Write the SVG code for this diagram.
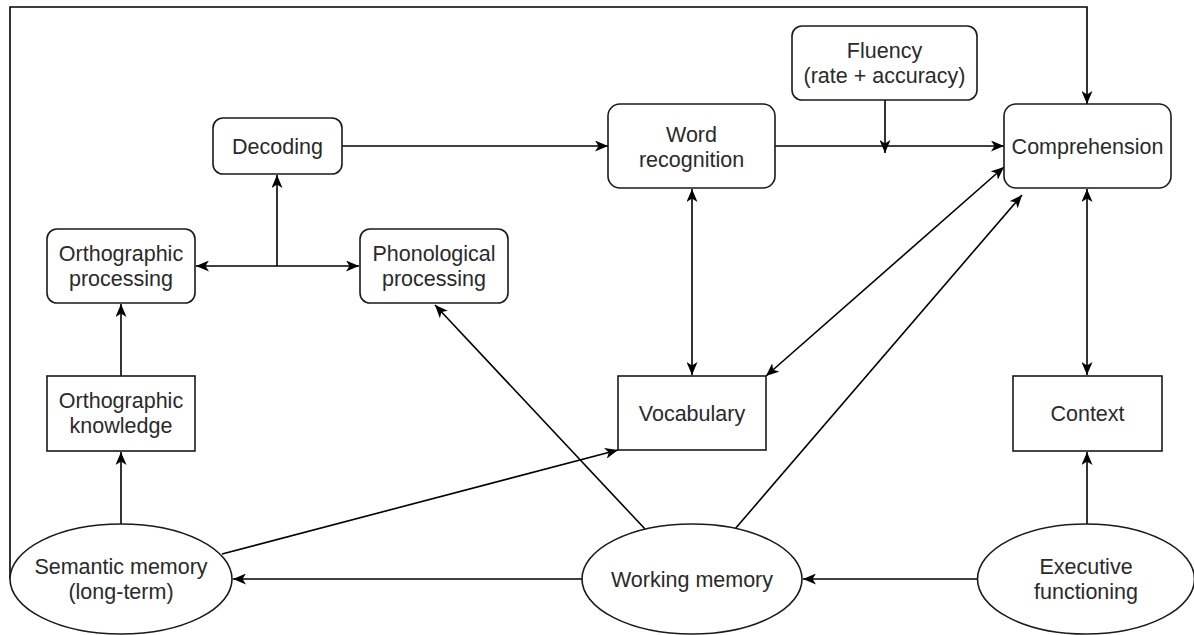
<svg xmlns="http://www.w3.org/2000/svg" width="1194" height="635" viewBox="0 0 1194 635">
<style>
.n{fill:#fff;stroke:#1a1a1a;stroke-width:1.6}
.t{font-family:"Liberation Sans",Arial,sans-serif;font-size:21.5px;fill:#2a2a2a;text-anchor:middle}
.e{fill:none;stroke:#000;stroke-width:1.6}
</style>
<defs>
<marker id="a" viewBox="0 0 13 11" refX="13" refY="5.5" markerWidth="13" markerHeight="11" markerUnits="userSpaceOnUse" orient="auto-start-reverse">
<path d="M0,0 L13,5.5 L0,11 L3.5,5.5 Z" fill="#000"/>
</marker>
</defs>
<rect width="1194" height="635" fill="#fff"/>
<g id="connectors">
<path class="e" d="M10,579 L10,7 L1087,7 L1087,104" marker-end="url(#a)"/>
<path class="e" d="M342,146 L608,146" marker-end="url(#a)"/>
<path class="e" d="M775,146 L1004,146" marker-end="url(#a)"/>
<path class="e" d="M885,100 L885,153" marker-end="url(#a)"/>
<path class="e" d="M277,266 L196,266" marker-end="url(#a)"/>
<path class="e" d="M277,266 L359,266" marker-end="url(#a)"/>
<path class="e" d="M277,266 L277,175" marker-end="url(#a)"/>
<path class="e" d="M121,376 L121,304" marker-end="url(#a)"/>
<path class="e" d="M121,524 L121,452" marker-end="url(#a)"/>
<path class="e" d="M222,554 L618,450" marker-end="url(#a)"/>
<path class="e" d="M582,579 L233,579" marker-end="url(#a)"/>
<path class="e" d="M977,579 L803,579" marker-end="url(#a)"/>
<path class="e" d="M1087,524 L1087,452" marker-end="url(#a)"/>
<path class="e" d="M1087,189 L1087,375" marker-start="url(#a)" marker-end="url(#a)"/>
<path class="e" d="M692,189 L692,375" marker-start="url(#a)" marker-end="url(#a)"/>
<path class="e" d="M766,376 L1004,167" marker-start="url(#a)" marker-end="url(#a)"/>
<path class="e" d="M735,529 L1022,195" marker-end="url(#a)"/>
<path class="e" d="M645,529 L435,305" marker-end="url(#a)"/>
</g>
<g id="decoding"><rect class="n" x="213" y="118" width="129" height="56" rx="10"/><text class="t" x="277.5" y="153.5">Decoding</text></g>
<g id="orthographic-processing"><rect class="n" x="47" y="229" width="148" height="74" rx="10"/><text class="t" x="121" y="261">Orthographic</text><text class="t" x="121" y="286">processing</text></g>
<g id="phonological-processing"><rect class="n" x="360" y="229" width="148" height="74" rx="10"/><text class="t" x="434" y="261">Phonological</text><text class="t" x="434" y="286">processing</text></g>
<g id="word-recognition"><rect class="n" x="608" y="104" width="167" height="84" rx="12"/><text class="t" x="691.5" y="141.5">Word</text><text class="t" x="691.5" y="166.5">recognition</text></g>
<g id="fluency"><rect class="n" x="792" y="26" width="185" height="74" rx="10"/><text class="t" x="884.5" y="58">Fluency</text><text class="t" x="884.5" y="83">(rate + accuracy)</text></g>
<g id="comprehension"><rect class="n" x="1004" y="104" width="167" height="84" rx="12"/><text class="t" x="1087.5" y="153.5">Comprehension</text></g>
<g id="orthographic-knowledge"><rect class="n" x="47" y="376" width="148" height="75"/><text class="t" x="121" y="408">Orthographic</text><text class="t" x="121" y="433">knowledge</text></g>
<g id="vocabulary"><rect class="n" x="618" y="376" width="148" height="74"/><text class="t" x="692" y="420.5">Vocabulary</text></g>
<g id="context"><rect class="n" x="1013" y="376" width="149" height="75"/><text class="t" x="1087.5" y="421">Context</text></g>
<g id="semantic-memory"><ellipse class="n" cx="121" cy="579" rx="111" ry="55"/><text class="t" x="121" y="574">Semantic memory</text><text class="t" x="121" y="599">(long-term)</text></g>
<g id="working-memory"><ellipse class="n" cx="692" cy="579" rx="110" ry="55"/><text class="t" x="692" y="586.5">Working memory</text></g>
<g id="executive-functioning"><ellipse class="n" cx="1086" cy="579" rx="108.5" ry="55"/><text class="t" x="1086" y="574">Executive</text><text class="t" x="1086" y="599">functioning</text></g>
</svg>
